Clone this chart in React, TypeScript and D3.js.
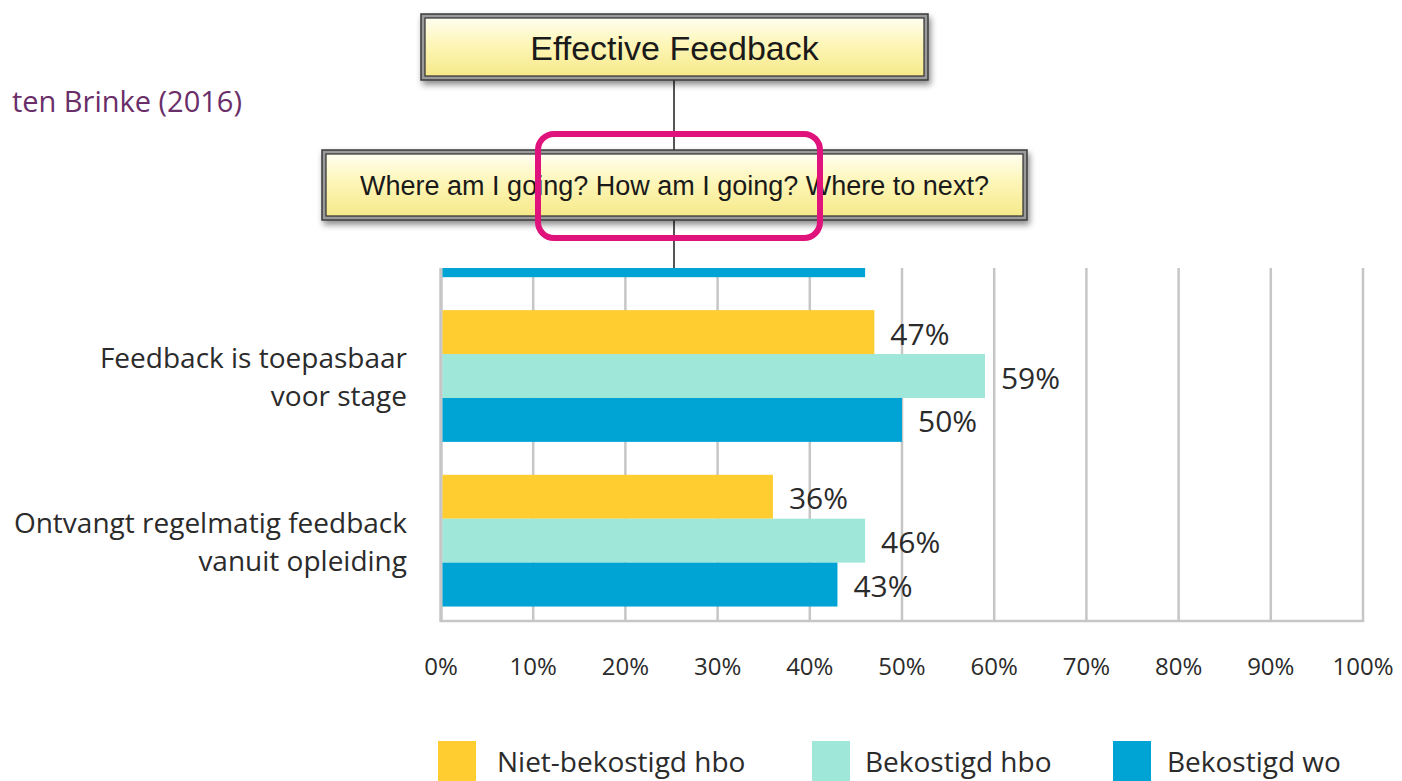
import { useEffect, useMemo } from 'react';
import * as d3 from 'd3';

// categories top to bottom; the first one is hidden behind the diagram
const categories = ['', 'Feedback is toepasbaar|voor stage', 'Ontvangt regelmatig feedback|vanuit opleiding'];
const seriesNames = ['Niet-bekostigd hbo', 'Bekostigd hbo', 'Bekostigd wo'];
const seriesColors = ['#FFCD2F', '#9FE7D9', '#00A4D4'];
const nietBekostigdHbo: (number | null)[] = [null, 47, 36];
const bekostigdHbo: (number | null)[] = [null, 59, 46];
const bekostigdWo: (number | null)[] = [46, 50, 43];
const tickValues = [0, 10, 20, 30, 40, 50, 60, 70, 80, 90, 100];

const W = 1402;
const H = 781;
const CLIP_TOP = 268;
const GRID = '#c6c6c6';
const TEXT = '#2b2b2b';
const CHART_FONT = '"Open Sans", Lato, sans-serif';
const DIAGRAM_FONT = '"Liberation Sans", Arial, sans-serif';

function DiagramBox({ x, y, w, h, text, size }: { x: number; y: number; w: number; h: number; text: string; size: number }) {
  return (
    <g>
      <rect x={x} y={y} width={w} height={h} fill="#9a9a9a" stroke="#3a3a3a" strokeWidth={1.5} filter="url(#shadow)" />
      <rect x={x + 4} y={y + 4} width={w - 8} height={h - 8} fill="url(#boxFill)" stroke="#2e2e2e" strokeWidth={1.2} />
      <text x={x + w / 2} y={y + h / 2 + 1} textAnchor="middle" dominantBaseline="central" fontFamily={DIAGRAM_FONT} fontSize={size} fill="#1a1a1a">
        {text}
      </text>
    </g>
  );
}

export default function App() {
  useEffect(() => {
    document.body.style.margin = '0';
  }, []);

  const x = useMemo(() => d3.scaleLinear().domain([0, 100]).range([441, 1363]), []);
  const y = useMemo(
    () => d3.scaleBand<number>().domain(d3.range(categories.length)).range([129, 623]).paddingInner(0.2).paddingOuter(0.1),
    [],
  );
  const sub = useMemo(
    () => d3.scaleBand<number>().domain(d3.range(seriesNames.length)).range([0, y.bandwidth()]),
    [y],
  );

  const series = [nietBekostigdHbo, bekostigdHbo, bekostigdWo];
  const legendX = [438, 812, 1113];
  const legendTextX = [497, 865, 1167];

  return (
    <svg width={W} height={H} style={{ display: 'block' }}>
      <defs>
        <clipPath id="plotClip">
          <rect x={0} y={CLIP_TOP} width={W} height={H - CLIP_TOP} />
        </clipPath>
        <linearGradient id="boxFill" x1="0" y1="0" x2="0" y2="1">
          <stop offset="0%" stopColor="#fffef0" />
          <stop offset="45%" stopColor="#fdf6b8" />
          <stop offset="100%" stopColor="#f6e98a" />
        </linearGradient>
        <filter id="shadow" x="-5%" y="-20%" width="110%" height="150%">
          <feDropShadow dx={2} dy={4} stdDeviation={3} floodColor="#000" floodOpacity={0.45} />
        </filter>
      </defs>

      <rect width={W} height={H} fill="#fff" />

      {/* source */}
      <text x={242} y={112} textAnchor="end" fontFamily='"Open Sans", sans-serif' fontSize={29} fill="#6a2e69">
        ten Brinke (2016)
      </text>

      {/* chart */}
      <g clipPath="url(#plotClip)">
        {tickValues.map((t) => (
          <line key={t} x1={x(t)} x2={x(t)} y1={127} y2={621} stroke={GRID} strokeWidth={t === 0 ? 3.5 : 2.5} />
        ))}
        <line x1={x(0) - 1.5} x2={x(100) + 1.2} y1={621} y2={621} stroke={GRID} strokeWidth={2.5} />

        {categories.map((_, ci) =>
          series.map((vals, si) => {
            const v = vals[ci];
            if (v == null) return null;
            const by = (y(ci) ?? 0) + (sub(si) ?? 0);
            const bh = sub.bandwidth();
            return (
              <g key={`${ci}-${si}`}>
                <rect x={x(0) + 1.5} y={by} width={x(v) - x(0) - 1.5} height={bh} fill={seriesColors[si]} />
                <text
                  x={x(v) + 16}
                  y={by + bh / 2 + 1}
                  dominantBaseline="central"
                  fontFamily={CHART_FONT}
                  fontSize={30}
                  fill={TEXT}
                >
                  {v}%
                </text>
              </g>
            );
          }),
        )}

        {categories.map((c, ci) => {
          if (!c) return null;
          const lines = c.split('|');
          const cy = (y(ci) ?? 0) + y.bandwidth() / 2;
          return (
            <text key={ci} textAnchor="end" fontFamily={CHART_FONT} fontSize={28} fill={TEXT}>
              {lines.map((l, li) => (
                <tspan key={li} x={407} y={cy + (li - (lines.length - 1) / 2) * 38} dominantBaseline="central">
                  {l}
                </tspan>
              ))}
            </text>
          );
        })}
      </g>

      {/* x tick labels */}
      {tickValues.map((t) => (
        <text
          key={t}
          x={x(t)}
          y={665}
          textAnchor="middle"
          dominantBaseline="central"
          fontFamily={CHART_FONT}
          fontSize={24}
          fill={TEXT}
        >
          {t}%
        </text>
      ))}

      {/* legend */}
      {seriesNames.map((n, i) => (
        <g key={n}>
          <rect x={legendX[i]} y={741} width={38} height={45} fill={seriesColors[i]} />
          <text x={legendTextX[i]} y={761} dominantBaseline="central" fontFamily={CHART_FONT} fontSize={28} fill={TEXT}>
            {n}
          </text>
        </g>
      ))}

      {/* feedback model diagram on top */}
      <line x1={674} x2={674} y1={80} y2={CLIP_TOP} stroke="#555" strokeWidth={2} />
      <DiagramBox x={421} y={14} w={507} h={66} text="Effective Feedback" size={34} />
      <DiagramBox x={322} y={150} w={705} h={70} text="Where am I going? How am I going? Where to next?" size={27} />
      <rect x={538} y={134} width={282} height={104} rx={16} fill="none" stroke="#e0127b" strokeWidth={6} />
    </svg>
  );
}
